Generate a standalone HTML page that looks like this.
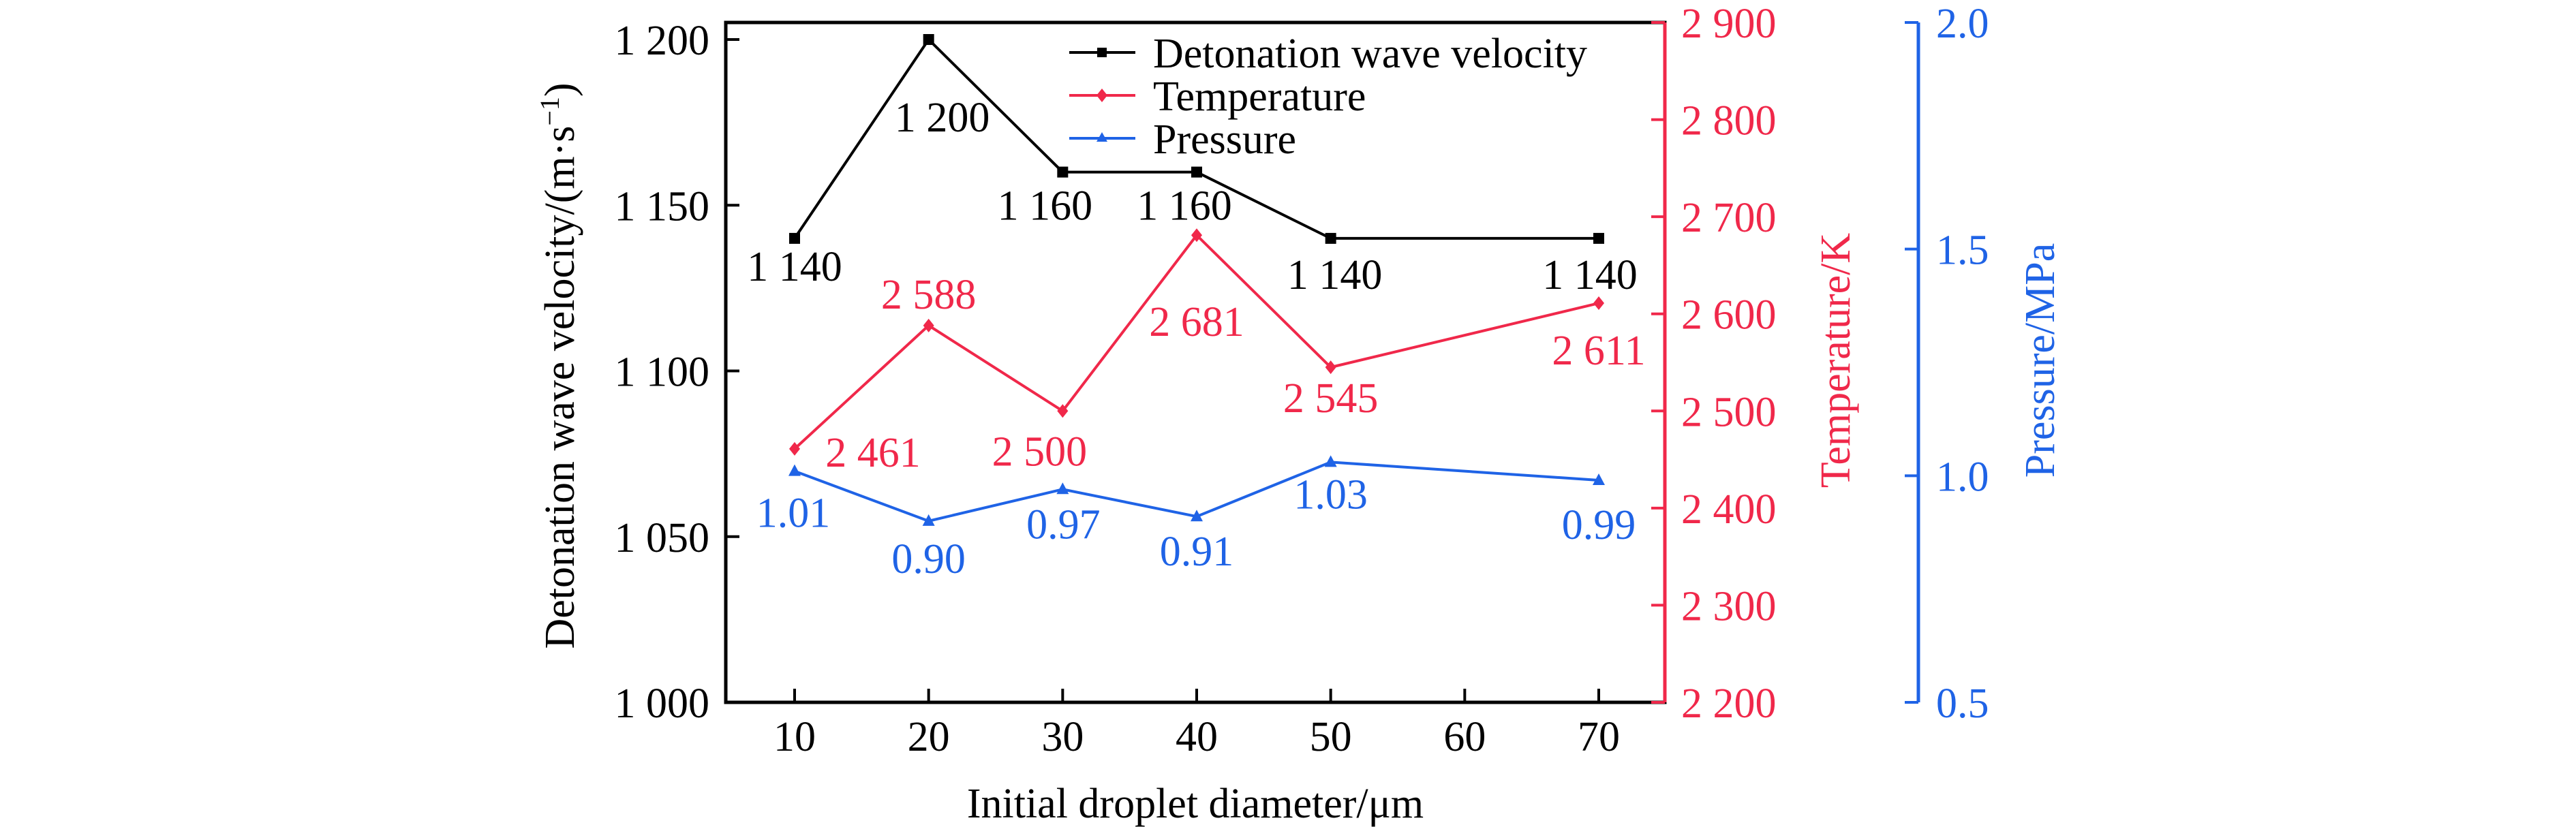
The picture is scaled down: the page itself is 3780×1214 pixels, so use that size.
<!DOCTYPE html>
<html><head><meta charset="utf-8"><style>
html,body{margin:0;padding:0;background:#fff;}
svg{display:block;}
svg text{font-family:"Liberation Serif","DejaVu Serif",serif;}
</style></head><body>
<svg id="chart" width="3780" height="1214" viewBox="0 0 3780 1214" xmlns="http://www.w3.org/2000/svg" font-family="Liberation Serif, serif"></svg>
<script>
const categories = [10, 20, 30, 40, 50, 70];
const xTicks = [10, 20, 30, 40, 50, 60, 70];
const velocity = [1140, 1200, 1160, 1160, 1140, 1140];
const temperature = [2461, 2588, 2500, 2681, 2545, 2611];
const pressure = [1.01, 0.90, 0.97, 0.91, 1.03, 0.99];
const velocityLabels = ["1 140", "1 200", "1 160", "1 160", "1 140", "1 140"];
const temperatureLabels = ["2 461", "2 588", "2 500", "2 681", "2 545", "2 611"];
const pressureLabels = ["1.01", "0.90", "0.97", "0.91", "1.03", "0.99"];
const vTicks = [1000, 1050, 1100, 1150, 1200];
const vTickLabels = ["1 000", "1 050", "1 100", "1 150", "1 200"];
const tTicks = [2200, 2300, 2400, 2500, 2600, 2700, 2800, 2900];
const tTickLabels = ["2 200", "2 300", "2 400", "2 500", "2 600", "2 700", "2 800", "2 900"];
const pTicks = [0.5, 1.0, 1.5, 2.0];
const pTickLabels = ["0.5", "1.0", "1.5", "2.0"];

const L = 1065, R = 2443, T = 33, B = 1031, PAX = 2815;
const RED = "#f0284a", BLUE = "#1f63e6";
const FONT = "'Liberation Serif', 'DejaVu Serif', serif";
const X = v => 1166 + (v - 10) * (2346 - 1166) / 60;
const YV = v => B - (v - 1000) * (B - 58) / 200;
const YT = v => B - (v - 2200) * (B - T) / 700;
const YP = v => B - (v - 0.5) * (B - T) / 1.5;

const svg = document.getElementById('chart');
const NS = "http://www.w3.org/2000/svg";
function mk(tag, attrs, parent) {
  const e = document.createElementNS(NS, tag);
  for (const k in attrs) e.setAttribute(k, attrs[k]);
  (parent || svg).appendChild(e);
  return e;
}
function txt(s, x, y, attrs) {
  const e = mk('text', Object.assign({x: x, y: y, 'font-size': 62, 'font-family': FONT}, attrs));
  e.style.fontFamily = FONT;
  e.textContent = s;
  return e;
}

let f = mk('rect', {x: L, y: T, width: R - L, height: B - T, fill: 'none', stroke: '#000', 'stroke-width': 5});


let ra = mk('line', {x1: R, y1: T, x2: R, y2: B, stroke: RED, 'stroke-width': 5});


let pa = mk('line', {x1: PAX, y1: T, x2: PAX, y2: B, stroke: BLUE, 'stroke-width': 5});



xTicks.forEach(v => {
  mk('line', {x1: X(v), y1: B, x2: X(v), y2: B - 20, stroke: '#000', 'stroke-width': 4});
  let t = txt(String(v), X(v), 1102, {'text-anchor': 'middle'});
  
  
});
vTicks.forEach((v, i) => {
  mk('line', {x1: L, y1: YV(v), x2: L + 20, y2: YV(v), stroke: '#000', 'stroke-width': 4});
  let t = txt(vTickLabels[i], 1041, YV(v) + 22, {'text-anchor': 'end'});
  
  
});
tTicks.forEach((v, i) => {
  mk('line', {x1: R, y1: YT(v), x2: R - 20, y2: YT(v), stroke: RED, 'stroke-width': 4});
  let t = txt(tTickLabels[i], 2467, YT(v) + 22, {fill: RED});
  
  
});
pTicks.forEach((v, i) => {
  mk('line', {x1: PAX, y1: YP(v), x2: PAX - 20, y2: YP(v), stroke: BLUE, 'stroke-width': 4});
  let t = txt(pTickLabels[i], 2841, YP(v) + 22, {fill: BLUE});
  
  
});

let xt = txt("Initial droplet diameter/\u03bcm", 1754, 1200, {'text-anchor': 'middle'});


let yt = txt("Detonation wave velocity/(m\u00b7s", 0, 0, {'text-anchor': 'middle', transform: 'translate(842,537) rotate(-90)'});


const sup = mk('tspan', {'font-size': 40, dy: -22}, yt); sup.textContent = "\u22121";
const cl = mk('tspan', {dy: 22}, yt); cl.textContent = ")";
let tt = txt("Temperature/K", 0, 0, {'text-anchor': 'middle', fill: RED, transform: 'translate(2714,529) rotate(-90)'});


let pt = txt("Pressure/MPa", 0, 0, {'text-anchor': 'middle', fill: BLUE, transform: 'translate(3014,529) rotate(-90)'});



function series(vals, yf, color, name, marker) {
  const pts = vals.map((v, i) => X(categories[i]) + ',' + yf(v)).join(' ');
  let pl = mk('polyline', {points: pts, fill: 'none', stroke: color, 'stroke-width': 4});
  
  
  vals.forEach((v, i) => {
    const x = X(categories[i]), y = yf(v);
    let m;
    if (marker === 'sq') m = mk('rect', {x: x - 8, y: y - 8, width: 16, height: 16, fill: color});
    else if (marker === 'dia') m = mk('polygon', {points: `${x},${y-10} ${x+8},${y} ${x},${y+10} ${x-8},${y}`, fill: color});
    else m = mk('polygon', {points: `${x},${y-10} ${x+9},${y+7} ${x-9},${y+7}`, fill: color});
    
    
  });
}
series(velocity, YV, '#000', 'velocity', 'sq');
series(temperature, YT, RED, 'temperature', 'dia');
series(pressure, YP, BLUE, 'pressure', 'tri');

const vOff = [[0, 62], [20, 135], [-26, 70], [-18, 70], [6, 74], [-13, 74]];
const tOff = [[115, 26], [0, -25], [-34, 80], [0, 148], [0, 66], [0, 90]];
const pOff = [[-2, 82], [0, 76], [1, 72], [0, 72], [0, 68], [0, 86]];
velocity.forEach((v, i) => {
  let t = txt(velocityLabels[i], X(categories[i]) + vOff[i][0], YV(v) + vOff[i][1], {'text-anchor': 'middle'});
  
  
});
temperature.forEach((v, i) => {
  let t = txt(temperatureLabels[i], X(categories[i]) + tOff[i][0], YT(v) + tOff[i][1], {'text-anchor': 'middle', fill: RED});
  
  
});
pressure.forEach((v, i) => {
  let t = txt(pressureLabels[i], X(categories[i]) + pOff[i][0], YP(v) + pOff[i][1], {'text-anchor': 'middle', fill: BLUE});
  
  
});

const leg = [["Detonation wave velocity", '#000', 77, 'sq'], ["Temperature", RED, 140, 'dia'], ["Pressure", BLUE, 203, 'tri']];
leg.forEach(l => {
  const g = mk('g', {});
  
  
  mk('line', {x1: 1569, y1: l[2], x2: 1666, y2: l[2], stroke: l[1], 'stroke-width': 4}, g);
  const x = 1617, y = l[2];
  if (l[3] === 'sq') mk('rect', {x: x - 7, y: y - 7, width: 14, height: 14, fill: l[1]}, g);
  else if (l[3] === 'dia') mk('polygon', {points: `${x},${y-10} ${x+8},${y} ${x},${y+10} ${x-8},${y}`, fill: l[1]}, g);
  else mk('polygon', {points: `${x},${y-9} ${x+8},${y+5} ${x-8},${y+5}`, fill: l[1]}, g);
  const t = mk('text', {x: 1692, y: y + 22, 'font-size': 62, 'font-family': FONT}, g);
  t.style.fontFamily = FONT;
  t.textContent = l[0];
});
</script>
</body></html>
